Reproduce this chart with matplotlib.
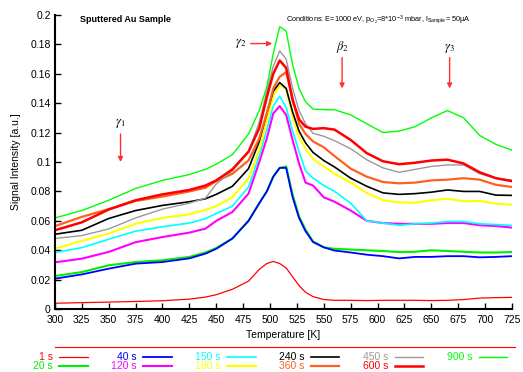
import matplotlib
matplotlib.use("Agg")
import matplotlib.pyplot as plt
from matplotlib.lines import Line2D

plt.rcParams['font.family'] = ['Liberation Sans', 'DejaVu Sans']
plt.rcParams['mathtext.fontset'] = 'stix'

# temperature grid [K]
temp = [300, 325, 350, 375, 400, 425, 440, 450, 465, 480, 490, 497, 503, 509, 515, 521,
        527, 533, 540, 550, 560, 575, 590, 605, 620, 635, 650, 665, 680, 695, 710, 725]

# signal vs temperature for each sputter time
s1 = [0.0040, 0.0044, 0.0048, 0.0052, 0.0057, 0.0068, 0.0082, 0.0098, 0.0135, 0.0190, 0.0270,
      0.0310, 0.0324, 0.0310, 0.0280, 0.0220, 0.0160, 0.0115, 0.0085, 0.0065, 0.0060, 0.0060,
      0.0058, 0.0060, 0.0060, 0.0060, 0.0058, 0.0060, 0.0065, 0.0075, 0.0078, 0.0080]
s20 = [0.0225, 0.0252, 0.0298, 0.0320, 0.0332, 0.0355, 0.0385, 0.0415, 0.0480, 0.0600, 0.0720,
       0.0800, 0.0900, 0.0960, 0.0970, 0.0780, 0.0630, 0.0540, 0.0460, 0.0420, 0.0410, 0.0405,
       0.0400, 0.0395, 0.0388, 0.0390, 0.0400, 0.0395, 0.0390, 0.0385, 0.0385, 0.0388]
s40 = [0.0207, 0.0236, 0.0275, 0.0309, 0.0320, 0.0345, 0.0377, 0.0410, 0.0480, 0.0600, 0.0720,
       0.0800, 0.0900, 0.0960, 0.0960, 0.0760, 0.0620, 0.0530, 0.0456, 0.0420, 0.0398, 0.0385,
       0.0370, 0.0360, 0.0345, 0.0355, 0.0355, 0.0360, 0.0360, 0.0352, 0.0355, 0.0360]
s120 = [0.0318, 0.0343, 0.0389, 0.0455, 0.0490, 0.0520, 0.0547, 0.0600, 0.0660, 0.0785, 0.1000,
        0.1160, 0.1330, 0.1380, 0.1320, 0.1150, 0.0990, 0.0860, 0.0840, 0.0760, 0.0730, 0.0670,
        0.0600, 0.0585, 0.0580, 0.0580, 0.0580, 0.0585, 0.0585, 0.0570, 0.0565, 0.0554]
s150 = [0.0384, 0.0418, 0.0475, 0.0530, 0.0560, 0.0585, 0.0615, 0.0650, 0.0700, 0.0830, 0.1040,
        0.1220, 0.1380, 0.1447, 0.1370, 0.1210, 0.1070, 0.0940, 0.0890, 0.0840, 0.0800, 0.0720,
        0.0600, 0.0585, 0.0570, 0.0580, 0.0585, 0.0595, 0.0595, 0.0580, 0.0575, 0.0569]
s180 = [0.0411, 0.0464, 0.0514, 0.0580, 0.0620, 0.0645, 0.0675, 0.0700, 0.0760, 0.0890, 0.1080,
        0.1280, 0.1450, 0.1520, 0.1500, 0.1310, 0.1170, 0.1090, 0.1020, 0.0970, 0.0920, 0.0860,
        0.0790, 0.0740, 0.0725, 0.0723, 0.0740, 0.0750, 0.0733, 0.0735, 0.0717, 0.0710]
s240 = [0.0509, 0.0536, 0.0616, 0.0670, 0.0705, 0.0730, 0.0750, 0.0780, 0.0835, 0.0955, 0.1140,
        0.1330, 0.1480, 0.1540, 0.1500, 0.1340, 0.1210, 0.1130, 0.1065, 0.1010, 0.0966, 0.0890,
        0.0835, 0.0790, 0.0780, 0.0785, 0.0795, 0.0810, 0.0800, 0.0800, 0.0775, 0.0773]
s360 = [0.0564, 0.0627, 0.0680, 0.0735, 0.0765, 0.0800, 0.0825, 0.0870, 0.0920, 0.1010, 0.1160,
        0.1330, 0.1500, 0.1580, 0.1610, 0.1430, 0.1260, 0.1190, 0.1140, 0.1100, 0.1040, 0.0955,
        0.0900, 0.0864, 0.0855, 0.0860, 0.0875, 0.0880, 0.0890, 0.0880, 0.0845, 0.0830]
s450 = [0.0480, 0.0500, 0.0545, 0.0620, 0.0680, 0.0720, 0.0755, 0.0850, 0.0940, 0.1070, 0.1270,
        0.1480, 0.1650, 0.1755, 0.1700, 0.1500, 0.1350, 0.1260, 0.1195, 0.1175, 0.1145, 0.1090,
        0.1015, 0.0960, 0.0930, 0.0950, 0.0970, 0.0980, 0.0980, 0.0920, 0.0890, 0.0876]
s600 = [0.0536, 0.0590, 0.0677, 0.0740, 0.0780, 0.0810, 0.0840, 0.0875, 0.0950, 0.1070, 0.1230,
        0.1440, 0.1600, 0.1690, 0.1640, 0.1420, 0.1290, 0.1240, 0.1225, 0.1230, 0.1220, 0.1150,
        0.1060, 0.1005, 0.0985, 0.0995, 0.1010, 0.1016, 0.0990, 0.0930, 0.0890, 0.0870]
s900 = [0.0620, 0.0670, 0.0740, 0.0820, 0.0875, 0.0915, 0.0950, 0.0985, 0.1050, 0.1190, 0.1350,
        0.1510, 0.1737, 0.1920, 0.1890, 0.1660, 0.1500, 0.1410, 0.1360, 0.1356, 0.1355, 0.1320,
        0.1260, 0.1200, 0.1210, 0.1240, 0.1300, 0.1350, 0.1300, 0.1180, 0.1120, 0.1080]

labels = ['1 s', '20 s', '40 s', '120 s', '150 s', '180 s', '240 s', '360 s', '450 s', '600 s', '900 s']
series = [s1, s20, s40, s120, s150, s180, s240, s360, s450, s600, s900]
colors = ['#ff0000', '#00ee00', '#0000ff', '#ff00ff', '#00ffff', '#ffff00',
          '#000000', '#ff6020', '#999999', '#ff0000', '#00ff00']
widths = [0.9, 1.5, 1.3, 1.5, 1.2, 1.5, 1.2, 1.6, 1.0, 1.8, 1.0]

fig = plt.figure(figsize=(5.23, 3.72), dpi=100)
ax = fig.add_axes([0.105, 0.169, 0.874, 0.791])

for y, c, w in zip(series, colors, widths):
    ax.plot(temp, y, color=c, lw=w)

ax.set_xlim(300, 725)
ax.set_ylim(0, 0.2)
ax.set_xticks(range(300, 726, 25))
ax.set_yticks([i * 0.02 for i in range(11)])
ax.set_yticklabels(['0', '0.02', '0.04', '0.06', '0.08', '0.1', '0.12', '0.14', '0.16', '0.18', '0.2'])
ax.tick_params(direction='in', length=4, width=1, labelsize=7.5, pad=3)
ax.tick_params(axis='x', pad=4)
ax.spines['top'].set_visible(False)
ax.spines['right'].set_visible(False)
ax.spines['left'].set_linewidth(1.5)
ax.spines['bottom'].set_linewidth(1.5)
ax.set_xlabel('Temperature [K]', fontsize=7.5, labelpad=4)
ax.set_ylabel('Signal Intensity [a.u.]', fontsize=7.5, labelpad=7)

ax.text(0.055, 0.985, 'Sputtered Au Sample', transform=ax.transAxes, fontsize=6.5,
        fontweight='bold', va='center')
ax.text(0.505, 0.985, r'Conditions: E=1000 eV, p$_{\mathregular{O_2}}$=8*10$^{\mathregular{-3}}$ mbar, '
        r'I$_{\mathregular{Sample}}$= 50µA', transform=ax.transAxes, fontsize=5.3, va='center')

# peak markers
arrow = dict(arrowstyle='-|>', color='#ff3030', lw=1.0, mutation_scale=7, shrinkA=0, shrinkB=0)
ax.annotate('', xy=(361, 0.100), xytext=(361, 0.119), arrowprops=arrow)
ax.text(361, 0.122, r'$\gamma_1$', ha='center', va='bottom', fontsize=9)
ax.annotate('', xy=(502, 0.1805), xytext=(482, 0.1805), arrowprops=arrow)
ax.text(478, 0.1805, r'$\gamma_2$', ha='right', va='center', fontsize=9)
ax.annotate('', xy=(567, 0.150), xytext=(567, 0.171), arrowprops=arrow)
ax.text(567, 0.173, r'$\beta_2$', ha='center', va='bottom', fontsize=9)
ax.annotate('', xy=(667, 0.150), xytext=(667, 0.171), arrowprops=arrow)
ax.text(667, 0.173, r'$\gamma_3$', ha='center', va='bottom', fontsize=9)

# legend strip under the axis
W, H = 523.0, 372.0
fig.add_artist(Line2D([55 / W, 515 / W], [1 - 347.3 / H] * 2, color='#ff0000', lw=0.8))
for i, (lab, c, w) in enumerate(zip(labels, colors, widths)):
    col, row = i // 2, i % 2
    ypx = 356.5 + row * 9.7
    x0 = 52.7 + 83.9 * col
    fig.text(x0 / W, 1 - ypx / H, lab, color=c, fontsize=7.5, ha='right', va='center')
    fig.add_artist(Line2D([(x0 + 6.5) / W, (x0 + 35) / W], [1 - ypx / H] * 2, color=c, lw=w))

fig.savefig('out.png', dpi=100)
